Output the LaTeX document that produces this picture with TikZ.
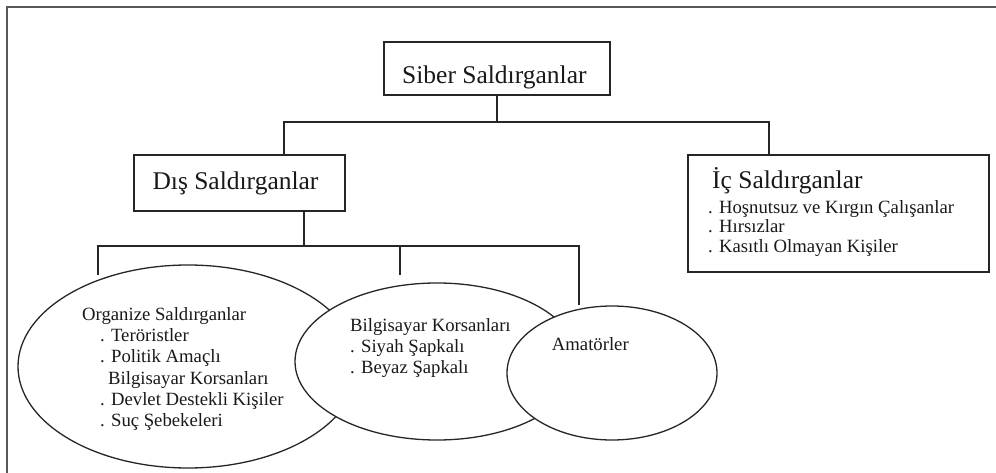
\documentclass[tikz,border=0pt]{standalone}
\usepackage{fontspec}
\setmainfont{Liberation Serif}
\usetikzlibrary{shapes.geometric}
\begin{document}
\begin{tikzpicture}[x=1pt,y=-1pt]
\tikzset{
  frameline/.style={draw=black!65, line width=2pt},
  link/.style={draw=black!85, line width=1.5pt},
  boxshape/.style={draw=black!85, line width=1.5pt, fill=white, inner sep=0pt},
  oval/.style={ellipse, draw=black!85, line width=1.3pt, fill=white, inner sep=0pt},
  big/.style={font=\fontsize{25.5}{30}\selectfont, text=black!90, inner sep=0pt, anchor=base west},
  small/.style={font=\fontsize{18.7}{22}\selectfont, text=black!90, inner sep=0pt, anchor=base west},
}
\useasboundingbox (0,0) rectangle (996,473);

% outer frame (top and left edges)
\draw[frameline] (996,7) -- (7,7) -- (7,473);

% boxes
\node[boxshape, minimum width=226pt, minimum height=53pt] (siber) at (497,68.5) {};
\node[boxshape, minimum width=211pt, minimum height=56pt] (dis) at (239.5,183) {};
\node[boxshape, minimum width=301pt, minimum height=117pt] (ic) at (838.5,213.5) {};

% connector junctions
\coordinate (topBus) at (499,122);
\coordinate (disIn) at (284,155);
\coordinate (icIn) at (769,155);
\coordinate (disOut) at (304,211);
\coordinate (lowBus) at (304,246);
\coordinate (orgIn) at (98,275);
\coordinate (bilIn) at (400,275);
\coordinate (amaIn) at (579,305);

% connectors
\draw[link] (siber.south) -- (siber.south |- topBus);
\draw[link] (disIn) |- (topBus) -| (icIn);
\draw[link] (disOut) -- (lowBus);
\draw[link] (orgIn) |- (lowBus) -| (amaIn);
\draw[link] (bilIn) -- (bilIn |- lowBus);

% ellipses, later ones overlap earlier ones
\node[oval, minimum width=340pt, minimum height=203pt] (org) at (188,366.5) {};
\node[oval, minimum width=284pt, minimum height=157pt] (bil) at (437,361.5) {};
\node[oval, minimum width=210pt, minimum height=134pt] (ama) at (612,373) {};

% labels
\node[big] (siberT) at (402,83.3) {Siber Saldırganlar};
\node[big] (disT) at (152.3,190) {Dış Saldırganlar};
\node[big] (icT) at (712,189) {İç Saldırganlar};
\node[small] (ic1) at (708,214) {. Hoşnutsuz ve Kırgın Çalışanlar};
\node[small] (ic2) at (708,233) {. Hırsızlar};
\node[small] (ic3) at (708,252) {. Kasıtlı Olmayan Kişiler};

\node[small] (org0) at (82,320) {Organize Saldırganlar};
\node[small] (org1) at (100,341.3) {. Teröristler};
\node[small] (org2) at (100,362.6) {. Politik Amaçlı};
\node[small] (org3) at (108,384) {Bilgisayar Korsanları};
\node[small] (org4) at (100,405.3) {. Devlet Destekli Kişiler};
\node[small] (org5) at (100,426.6) {. Suç Şebekeleri};

\node[small] (bil0) at (350,331) {Bilgisayar Korsanları};
\node[small] (bil1) at (350,352) {. Siyah Şapkalı};
\node[small] (bil2) at (350,373) {. Beyaz Şapkalı};

\node[small] (ama0) at (551.7,350) {Amatörler};
\end{tikzpicture}
\end{document}
